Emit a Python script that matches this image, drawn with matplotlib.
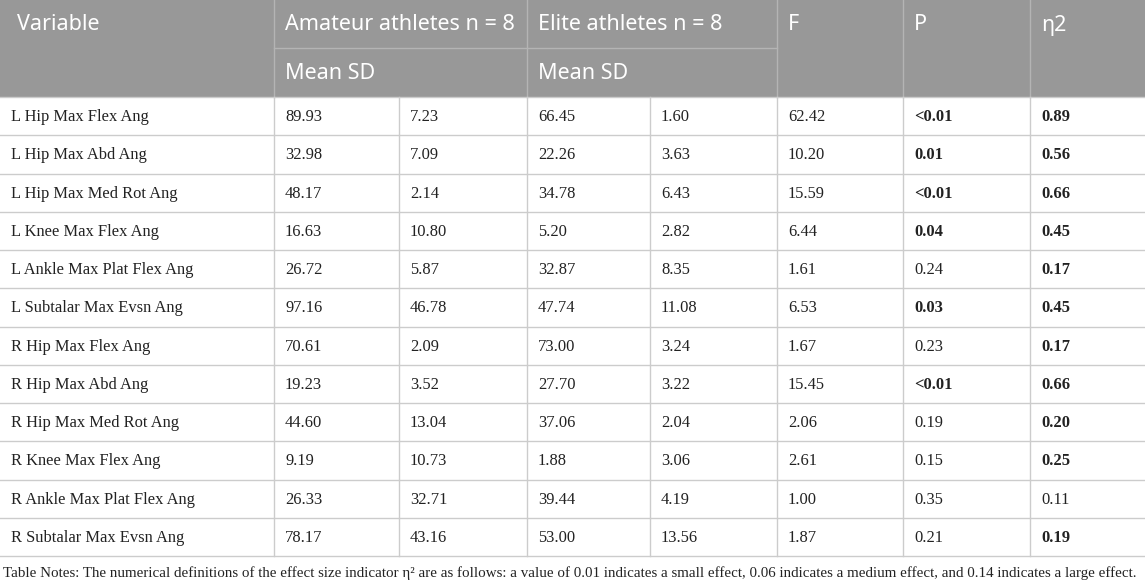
import matplotlib.pyplot as plt

# Table data
variables = ['L Hip Max Flex Ang', 'L Hip Max Abd Ang', 'L Hip Max Med Rot Ang',
             'L Knee Max Flex Ang', 'L Ankle Max Plat Flex Ang', 'L Subtalar Max Evsn Ang',
             'R Hip Max Flex Ang', 'R Hip Max Abd Ang', 'R Hip Max Med Rot Ang',
             'R Knee Max Flex Ang', 'R Ankle Max Plat Flex Ang', 'R Subtalar Max Evsn Ang']
amateur_mean = ['89.93', '32.98', '48.17', '16.63', '26.72', '97.16',
                '70.61', '19.23', '44.60', '9.19', '26.33', '78.17']
amateur_sd = ['7.23', '7.09', '2.14', '10.80', '5.87', '46.78',
              '2.09', '3.52', '13.04', '10.73', '32.71', '43.16']
elite_mean = ['66.45', '22.26', '34.78', '5.20', '32.87', '47.74',
              '73.00', '27.70', '37.06', '1.88', '39.44', '53.00']
elite_sd = ['1.60', '3.63', '6.43', '2.82', '8.35', '11.08',
            '3.24', '3.22', '2.04', '3.06', '4.19', '13.56']
f_vals = ['62.42', '10.20', '15.59', '6.44', '1.61', '6.53',
          '1.67', '15.45', '2.06', '2.61', '1.00', '1.87']
p_vals = ['<0.01', '0.01', '<0.01', '0.04', '0.24', '0.03',
          '0.23', '<0.01', '0.19', '0.15', '0.35', '0.21']
eta2 = ['0.89', '0.56', '0.66', '0.45', '0.17', '0.45',
        '0.17', '0.66', '0.20', '0.25', '0.11', '0.19']
p_bold = [True, True, True, True, False, True, False, True, False, False, False, False]
eta_bold = [True, True, True, True, True, True, True, True, True, True, False, True]

note = ('Table Notes: The numerical definitions of the effect size indicator \u03b7\u00b2 are as follows: '
        'a value of 0.01 indicates a small effect, 0.06 indicates a medium effect, '
        'and 0.14 indicates a large effect.')

# layout (pixels)
W, H = 1145, 582
col_x = [0, 274, 399, 527, 650, 777, 903, 1030, 1145]
head_top, head_mid, head_bot = 0, 48, 97
row_h = 38.25
header_bg = '#989898'
header_line = '#b4b4b4'
grid = '#cccccc'
sans = 'Noto Sans'
serif = 'Liberation Serif'

fig = plt.figure(figsize=(W / 100, H / 100), dpi=100)
ax = fig.add_axes([0, 0, 1, 1])
ax.set_xlim(0, W)
ax.set_ylim(H, 0)
ax.axis('off')

# header background
ax.fill_between([0, W], head_top, head_bot, color=header_bg, lw=0)
ax.plot([col_x[1], col_x[5]], [head_mid, head_mid], color=header_line, lw=1)
for x in [col_x[1], col_x[3], col_x[5], col_x[6], col_x[7]]:
    ax.plot([x, x], [head_top, head_bot], color=header_line, lw=1)

hy1 = (head_top + head_mid) / 2 + 1
hy2 = (head_mid + head_bot) / 2 + 1
hkw = dict(color='white', fontsize=15.5, family=sans, va='center', ha='left')
ax.text(17, hy1, 'Variable', **hkw)
ax.text(col_x[1] + 11, hy1, 'Amateur athletes n = 8', **hkw)
ax.text(col_x[3] + 11, hy1, 'Elite athletes n = 8', **hkw)
ax.text(col_x[5] + 11, hy1, 'F', **hkw)
ax.text(col_x[6] + 11, hy1, 'P', **hkw)
ax.text(col_x[7] + 11, hy1, '\u03b72', **hkw)
ax.text(col_x[1] + 11, hy2, 'Mean SD', **hkw)
ax.text(col_x[3] + 11, hy2, 'Mean SD', **hkw)

# body
n = len(variables)
bottom = head_bot + n * row_h
for i in range(n + 1):
    y = head_bot + i * row_h
    ax.plot([0, W], [y, y], color=grid, lw=1)
for x in col_x[1:-1]:
    ax.plot([x, x], [head_bot, bottom], color=grid, lw=1)

columns = [variables, amateur_mean, amateur_sd, elite_mean, elite_sd, f_vals, p_vals, eta2]
for i in range(n):
    yc = head_bot + (i + 0.5) * row_h + 1
    for j, col in enumerate(columns):
        bold = (j == 6 and p_bold[i]) or (j == 7 and eta_bold[i])
        ax.text(col_x[j] + 11, yc, col[i], fontsize=11.9, family=serif, color='#222222',
                va='center', ha='left', fontweight='bold' if bold else 'normal')

ax.text(3, 573, note, fontsize=10.85, family=serif, color='#222222', va='center', ha='left')

fig.savefig('out.png', dpi=100)
